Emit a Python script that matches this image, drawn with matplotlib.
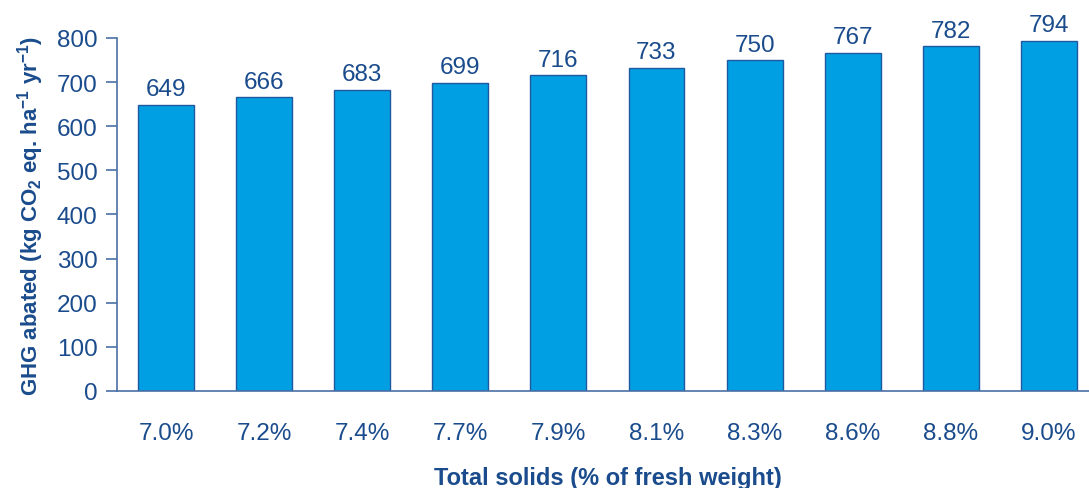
import matplotlib.pyplot as plt

# data
solids = ["7.0%", "7.2%", "7.4%", "7.7%", "7.9%", "8.1%", "8.3%", "8.6%", "8.8%", "9.0%"]
ghg_abated = [649, 666, 683, 699, 716, 733, 750, 767, 782, 794]

dark_blue = "#1a4b8c"
bar_blue = "#009fe3"

plt.rcParams["font.family"] = ["Liberation Sans", "DejaVu Sans"]
plt.rcParams["mathtext.fontset"] = "custom"
plt.rcParams["mathtext.rm"] = "Liberation Sans:bold"
plt.rcParams["mathtext.default"] = "rm"

fig = plt.figure(figsize=(10.89, 4.89), dpi=100)
ax = fig.add_axes([0.1074, 0.1984, 0.9008, 0.7219])

x = range(len(solids))
bars = ax.bar(x, ghg_abated, width=0.57, color=bar_blue, edgecolor="#1f5aa0", linewidth=1.0)

for xi, v in zip(x, ghg_abated):
    ax.text(xi, v + 10, str(v), ha="center", va="bottom", fontsize=17.5, color=dark_blue)

ax.set_xlim(-0.5, len(solids) - 0.5)
ax.set_ylim(0, 800)
ax.set_yticks(range(0, 801, 100))
ax.set_xticks(list(x))
ax.set_xticklabels(solids)

for side in ["top", "right"]:
    ax.spines[side].set_visible(False)
for side in ["left", "bottom"]:
    ax.spines[side].set_color("#4a6fa5")
    ax.spines[side].set_linewidth(1.2)

ax.tick_params(axis="y", length=8, width=1.2, color="#4a6fa5", labelsize=17.5, labelcolor=dark_blue, pad=6)
ax.tick_params(axis="x", length=0, labelsize=17.5, labelcolor=dark_blue, pad=22)

ax.set_ylabel("GHG abated (kg CO$_2$ eq. ha$^{-1}$ yr$^{-1}$)", fontsize=16,
              fontweight="bold", color=dark_blue, labelpad=8)
ax.set_xlabel("Total solids (% of fresh weight)", fontsize=17, fontweight="bold",
              color=dark_blue, labelpad=16)

fig.savefig("out.png", dpi=100)
